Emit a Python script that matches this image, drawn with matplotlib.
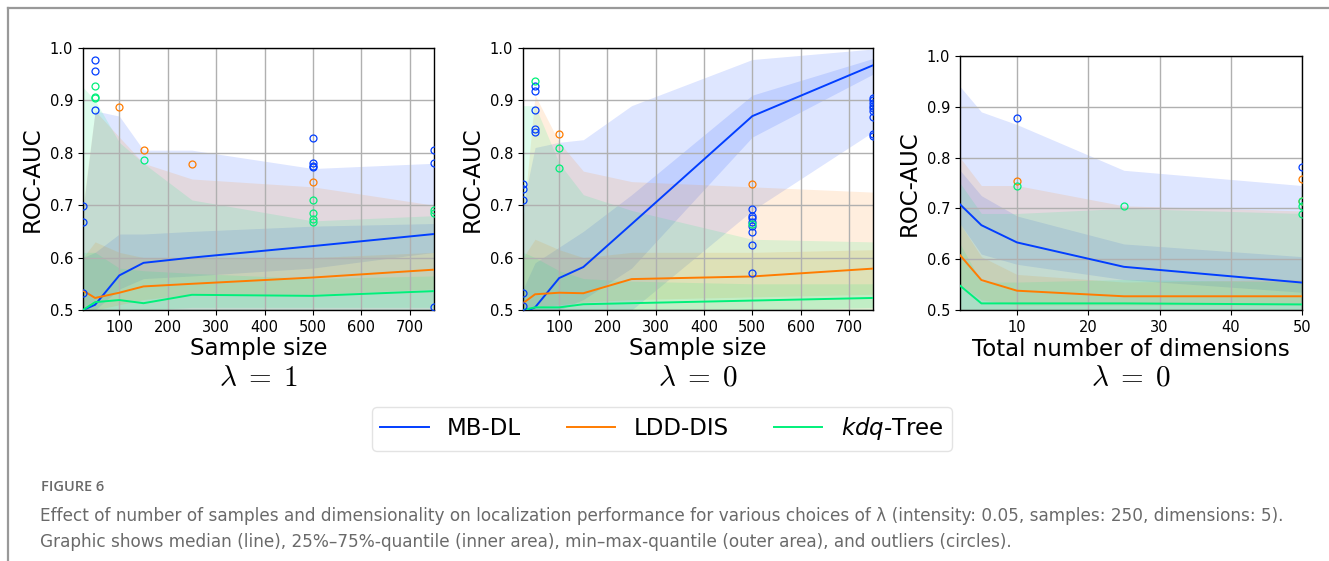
import matplotlib
matplotlib.use("Agg")
import matplotlib.pyplot as plt
from matplotlib.lines import Line2D

# Colours
MB_COLOR = "#023eff"
LDD_COLOR = "#ff7c00"
KDQ_COLOR = "#00f07a"
GRID_COLOR = "#b0b0b0"
CAPTION_COLOR = "#6a6a6a"

# ---------------- Panel 1: sample size, lambda = 1 ----------------
samples = [25, 50, 100, 150, 250, 500, 750]

p1_mb_med = [0.500, 0.510, 0.566, 0.590, 0.600, 0.622, 0.645]
p1_mb_q25 = [0.500, 0.500, 0.540, 0.560, 0.565, 0.580, 0.610]
p1_mb_q75 = [0.600, 0.610, 0.645, 0.645, 0.650, 0.660, 0.665]
p1_mb_min = [0.500, 0.500, 0.500, 0.500, 0.500, 0.500, 0.500]
p1_mb_max = [0.690, 0.880, 0.870, 0.805, 0.805, 0.770, 0.780]
p1_mb_out_x = [25, 25, 25, 50, 50, 50, 500, 500, 500, 500, 750, 750, 750]
p1_mb_out_y = [0.698, 0.667, 0.532, 0.978, 0.957, 0.882, 0.828, 0.780,
               0.775, 0.772, 0.806, 0.781, 0.505]

p1_ldd_med = [0.537, 0.523, 0.533, 0.545, 0.550, 0.562, 0.577]
p1_ldd_q25 = [0.500, 0.500, 0.510, 0.520, 0.530, 0.530, 0.540]
p1_ldd_q75 = [0.600, 0.630, 0.610, 0.600, 0.600, 0.600, 0.610]
p1_ldd_min = [0.500, 0.500, 0.500, 0.500, 0.500, 0.500, 0.500]
p1_ldd_max = [0.700, 0.880, 0.830, 0.780, 0.750, 0.735, 0.700]
p1_ldd_out_x = [100, 150, 250, 500]
p1_ldd_out_y = [0.888, 0.806, 0.779, 0.744]

p1_kdq_med = [0.500, 0.515, 0.519, 0.513, 0.529, 0.527, 0.536]
p1_kdq_q25 = [0.500, 0.500, 0.500, 0.500, 0.505, 0.505, 0.505]
p1_kdq_q75 = [0.610, 0.610, 0.580, 0.575, 0.570, 0.560, 0.565]
p1_kdq_min = [0.500, 0.500, 0.500, 0.500, 0.500, 0.500, 0.500]
p1_kdq_max = [0.925, 0.900, 0.820, 0.780, 0.710, 0.670, 0.680]
p1_kdq_out_x = [50, 50, 50, 150, 500, 500, 500, 500, 750, 750]
p1_kdq_out_y = [0.927, 0.906, 0.904, 0.787, 0.710, 0.686, 0.673, 0.668,
                0.690, 0.685]

# ---------------- Panel 2: sample size, lambda = 0 ----------------
p2_mb_med = [0.495, 0.505, 0.561, 0.582, 0.664, 0.870, 0.967]
p2_mb_q25 = [0.500, 0.500, 0.500, 0.520, 0.580, 0.830, 0.950]
p2_mb_q75 = [0.540, 0.590, 0.620, 0.650, 0.720, 0.910, 0.980]
p2_mb_min = [0.500, 0.500, 0.500, 0.500, 0.500, 0.690, 0.840]
p2_mb_max = [0.700, 0.810, 0.820, 0.825, 0.890, 0.978, 0.998]
p2_mb_out_x = [25, 25, 25, 25, 25, 50, 50, 50, 50, 50,
               500, 500, 500, 500, 500, 500, 500, 500,
               750, 750, 750, 750, 750, 750, 750, 750, 750]
p2_mb_out_y = [0.740, 0.730, 0.710, 0.532, 0.507, 0.927, 0.917, 0.882,
               0.845, 0.840, 0.693, 0.680, 0.675, 0.668, 0.660, 0.648,
               0.624, 0.570, 0.905, 0.900, 0.895, 0.890, 0.885, 0.880,
               0.868, 0.836, 0.833]

p2_ldd_med = [0.513, 0.530, 0.533, 0.532, 0.559, 0.564, 0.579]
p2_ldd_q25 = [0.500, 0.505, 0.510, 0.515, 0.520, 0.525, 0.530]
p2_ldd_q75 = [0.600, 0.635, 0.615, 0.600, 0.610, 0.610, 0.615]
p2_ldd_min = [0.500, 0.500, 0.500, 0.500, 0.500, 0.500, 0.500]
p2_ldd_max = [0.670, 0.910, 0.820, 0.765, 0.745, 0.735, 0.725]
p2_ldd_out_x = [100, 500]
p2_ldd_out_y = [0.836, 0.740]

p2_kdq_med = [0.500, 0.505, 0.505, 0.511, 0.513, 0.518, 0.523]
p2_kdq_q25 = [0.500, 0.500, 0.500, 0.500, 0.500, 0.500, 0.505]
p2_kdq_q75 = [0.610, 0.600, 0.575, 0.560, 0.555, 0.550, 0.550]
p2_kdq_min = [0.500, 0.500, 0.500, 0.500, 0.500, 0.500, 0.500]
p2_kdq_max = [0.890, 0.890, 0.780, 0.720, 0.690, 0.635, 0.630]
p2_kdq_out_x = [50, 100, 100, 500]
p2_kdq_out_y = [0.937, 0.810, 0.771, 0.665]

# ---------------- Panel 3: dimensions, lambda = 0 ----------------
dims = [2, 5, 10, 25, 50]

p3_mb_med = [0.708, 0.667, 0.633, 0.585, 0.554]
p3_mb_q25 = [0.670, 0.610, 0.590, 0.560, 0.535]
p3_mb_q75 = [0.775, 0.725, 0.685, 0.630, 0.605]
p3_mb_min = [0.500, 0.500, 0.500, 0.500, 0.500]
p3_mb_max = [0.940, 0.890, 0.865, 0.775, 0.745]
p3_mb_out_x = [10, 50]
p3_mb_out_y = [0.877, 0.782]

p3_ldd_med = [0.608, 0.559, 0.538, 0.527, 0.527]
p3_ldd_q25 = [0.550, 0.520, 0.510, 0.510, 0.510]
p3_ldd_q75 = [0.670, 0.605, 0.570, 0.555, 0.560]
p3_ldd_min = [0.500, 0.500, 0.500, 0.500, 0.500]
p3_ldd_max = [0.800, 0.745, 0.745, 0.705, 0.695]
p3_ldd_out_x = [10, 50, 50]
p3_ldd_out_y = [0.753, 0.758, 0.715]

p3_kdq_med = [0.548, 0.513, 0.513, 0.513, 0.511]
p3_kdq_q25 = [0.500, 0.500, 0.500, 0.500, 0.500]
p3_kdq_q75 = [0.630, 0.555, 0.555, 0.560, 0.555]
p3_kdq_min = [0.500, 0.500, 0.500, 0.500, 0.500]
p3_kdq_max = [0.750, 0.690, 0.690, 0.700, 0.690]
p3_kdq_out_x = [10, 25, 50, 50, 50]
p3_kdq_out_y = [0.745, 0.705, 0.715, 0.705, 0.688]

x_labels = ["Sample size", "Sample size", "Total number of dimensions"]
lambda_labels = [r"$\lambda\;=\;1$", r"$\lambda\;=\;0$", r"$\lambda\;=\;0$"]
method_names = ["MB-DL", "LDD-DIS", r"$\mathit{kdq}$-Tree"]
method_colors = [MB_COLOR, LDD_COLOR, KDQ_COLOR]


def draw_method(ax, x, med, q25, q75, vmin, vmax, out_x, out_y, color):
    """Draw outer band, inner band, median line and outliers."""
    ax.fill_between(x, vmin, vmax, color=color, alpha=0.13, linewidth=0)
    ax.fill_between(x, q25, q75, color=color, alpha=0.13, linewidth=0)
    ax.plot(x, med, color=color, linewidth=1.4, zorder=3)
    ax.plot(out_x, out_y, linestyle="none", marker="o", markersize=5,
            markerfacecolor="none", markeredgecolor=color,
            markeredgewidth=0.9, zorder=4)


fig = plt.figure(figsize=(13.29, 5.61), dpi=100)

# journal frame lines
fig.add_artist(Line2D([8 / 1329, 8 / 1329], [0, 1 - 8 / 561],
                      color="#999999", linewidth=1.6))
fig.add_artist(Line2D([8 / 1329, 1], [1 - 8 / 561, 1 - 8 / 561],
                      color="#999999", linewidth=1.6))

ax1 = fig.add_axes([83 / 1329, 251 / 561, 351 / 1329, 262 / 561])
ax2 = fig.add_axes([523 / 1329, 251 / 561, 350 / 1329, 262 / 561])
ax3 = fig.add_axes([960 / 1329, 251 / 561, 342 / 1329, 254 / 561])

panels = [
    (ax1, samples,
     [(p1_mb_med, p1_mb_q25, p1_mb_q75, p1_mb_min, p1_mb_max, p1_mb_out_x, p1_mb_out_y),
      (p1_ldd_med, p1_ldd_q25, p1_ldd_q75, p1_ldd_min, p1_ldd_max, p1_ldd_out_x, p1_ldd_out_y),
      (p1_kdq_med, p1_kdq_q25, p1_kdq_q75, p1_kdq_min, p1_kdq_max, p1_kdq_out_x, p1_kdq_out_y)]),
    (ax2, samples,
     [(p2_mb_med, p2_mb_q25, p2_mb_q75, p2_mb_min, p2_mb_max, p2_mb_out_x, p2_mb_out_y),
      (p2_ldd_med, p2_ldd_q25, p2_ldd_q75, p2_ldd_min, p2_ldd_max, p2_ldd_out_x, p2_ldd_out_y),
      (p2_kdq_med, p2_kdq_q25, p2_kdq_q75, p2_kdq_min, p2_kdq_max, p2_kdq_out_x, p2_kdq_out_y)]),
    (ax3, dims,
     [(p3_mb_med, p3_mb_q25, p3_mb_q75, p3_mb_min, p3_mb_max, p3_mb_out_x, p3_mb_out_y),
      (p3_ldd_med, p3_ldd_q25, p3_ldd_q75, p3_ldd_min, p3_ldd_max, p3_ldd_out_x, p3_ldd_out_y),
      (p3_kdq_med, p3_kdq_q25, p3_kdq_q75, p3_kdq_min, p3_kdq_max, p3_kdq_out_x, p3_kdq_out_y)]),
]

for i, (ax, x, series) in enumerate(panels):
    for data, color in zip(series, method_colors):
        draw_method(ax, x, *data, color)
    ax.set_xlim(x[0], x[-1])
    ax.set_ylim(0.5, 1.0)
    ax.set_yticks([0.5, 0.6, 0.7, 0.8, 0.9, 1.0])
    if i < 2:
        ax.set_xticks([100, 200, 300, 400, 500, 600, 700])
    else:
        ax.set_xticks([10, 20, 30, 40, 50])
    ax.grid(True, color=GRID_COLOR, linewidth=1.0)
    ax.tick_params(labelsize=10.5)
    ax.set_ylabel("ROC-AUC", fontsize=16.5)
    ax.set_xlabel(x_labels[i], fontsize=16.5, labelpad=2)
    for spine in ax.spines.values():
        spine.set_linewidth(1.0)
    bbox = ax.get_position()
    fig.text((bbox.x0 + bbox.x1) / 2, 1 - 378 / 561, lambda_labels[i],
             ha="center", va="center", fontsize=21, math_fontfamily="cm")

handles = [Line2D([], [], color=c, linewidth=1.4) for c in method_colors]
fig.legend(handles, method_names, loc="center", ncol=3,
           bbox_to_anchor=(662 / 1329, 1 - 429 / 561), fontsize=16.5,
           frameon=True, fancybox=True, handlelength=2.1, columnspacing=2.0,
           handletextpad=0.8, borderpad=0.35, edgecolor="#dddddd")

fig.text(41 / 1329, 1 - 487 / 561, "FIGURE 6", fontsize=10.5,
         family="Open Sans", fontweight="semibold", color=CAPTION_COLOR,
         va="center", ha="left")
fig.text(40 / 1329, 1 - 516 / 561,
         "Effect of number of samples and dimensionality on localization "
         "performance for various choices of \u03bb (intensity: 0.05, samples: "
         "250, dimensions: 5).",
         fontsize=12.2, family="DejaVu Sans", color=CAPTION_COLOR,
         va="center", ha="left")
fig.text(40 / 1329, 1 - 542 / 561,
         "Graphic shows median (line), 25%\u201375%-quantile (inner area), "
         "min\u2013max-quantile (outer area), and outliers (circles).",
         fontsize=12.2, family="DejaVu Sans", color=CAPTION_COLOR,
         va="center", ha="left")

fig.savefig("out.png", dpi=100, facecolor="white")
